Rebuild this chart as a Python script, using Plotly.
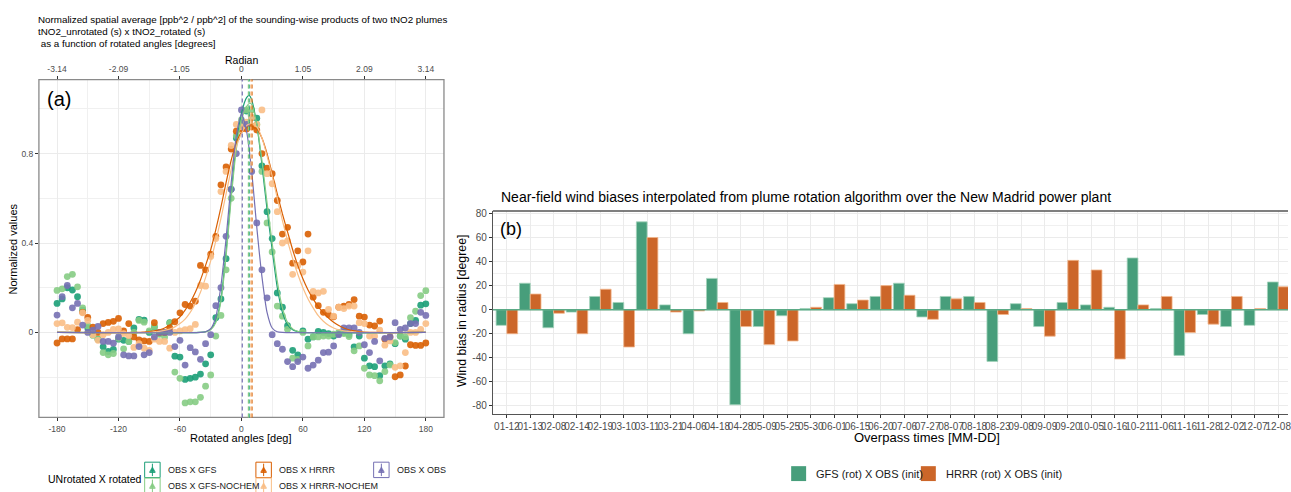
import plotly.graph_objects as go

W, H = 1291, 492


def fx(p):
    return p / W


def fy(p):
    return 1 - p / H


FONT = "Liberation Sans, Arial, sans-serif"

# ---------------- Panel (a) data ----------------
angles = list(range(-180, 181, 5))

obs_gfs = [0.13, 0.15, 0.20, 0.19, 0.16, 0.10, 0.02, -0.01, -0.03, -0.064,
           -0.085, -0.076, -0.03, -0.035, -0.04, 0.02, 0.058, 0.055, 0.0, 0.024,
           -0.005, 0.0, 0.044, -0.106, -0.11, -0.21, -0.205, -0.20, -0.186, -0.14,
           -0.10, 0.066, 0.15, 0.33, 0.64, 0.87, 0.93, 0.99, 0.96, 0.958,
           0.745, 0.54, 0.42, 0.177, 0.113, 0.03, -0.08, -0.10, 0.007, -0.03,
           -0.02, 0.005, 0.0, -0.005, -0.016, -0.005, 0.0, -0.01, -0.064, -0.016,
           -0.115, -0.149, -0.153, -0.193, -0.149, -0.14, -0.05, -0.016, -0.03, 0.04,
           0.054, 0.122, 0.128]

obs_gfs_nochem = [0.188, 0.195, 0.25, 0.26, 0.204, 0.11, 0.03, -0.013, -0.03, -0.09,
                  -0.10, -0.094, -0.026, -0.073, -0.04, 0.0, 0.054, 0.046, 0.007, 0.027,
                  -0.008, -0.02, 0.042, -0.177, -0.205, -0.315, -0.31, -0.31, -0.29, -0.24,
                  -0.19, -0.016, 0.076, 0.28, 0.60, 0.88, 0.95, 0.995, 0.995, 0.93,
                  0.72, 0.49, 0.36, 0.118, 0.073, 0.014, -0.115, -0.12, 0.0, -0.06,
                  -0.02, -0.02, -0.016, -0.016, -0.008, 0.0, -0.005, -0.018, -0.082, -0.06,
                  -0.16, -0.19, -0.193, -0.216, -0.175, -0.145, -0.045, -0.016, -0.02, 0.066,
                  0.095, 0.165, 0.187]

obs_hrrr = [-0.047, -0.029, -0.029, -0.029, 0.013, 0.09, 0.067, 0.024, 0.0, 0.04,
            0.045, 0.05, 0.063, 0.007, 0.04, -0.02, -0.033, -0.038, -0.04, 0.044,
            0.0, 0.0, 0.02, 0.048, 0.088, 0.125, 0.118, 0.14, 0.30, 0.28,
            0.35, 0.43, 0.66, 0.74, 0.82, 0.90, 0.91, 0.91, 0.92, 0.905,
            0.80, 0.735, 0.71, 0.59, 0.44, 0.47, 0.31, 0.365, 0.315, 0.44,
            0.158, 0.12, 0.09, 0.08, 0.07, 0.113, 0.118, 0.125, 0.147, 0.073,
            0.069, 0.033, 0.029, 0.051, -0.03, -0.02, -0.198, -0.19, -0.15, -0.055,
            -0.058, -0.058, -0.047]

obs_hrrr_nochem = [0.04, 0.043, 0.023, 0.022, 0.046, 0.088, 0.054, -0.01, -0.035, -0.01,
                   0.0, 0.014, 0.016, -0.005, -0.014, -0.067, -0.05, -0.07, -0.08, -0.03,
                   -0.04, -0.04, -0.07, 0.0, 0.007, 0.013, 0.017, 0.036, 0.21, 0.207,
                   0.34, 0.42, 0.63, 0.72, 0.836, 0.93, 0.92, 0.94, 0.96, 0.93,
                   0.995, 0.71, 0.665, 0.54, 0.40, 0.41, 0.26, 0.30, 0.27, 0.365,
                   0.184, 0.177, 0.184, 0.103, 0.073, 0.113, 0.107, 0.118, 0.118, 0.044,
                   0.04, -0.016, -0.016, 0.01, -0.057, -0.038, -0.156, -0.149, -0.09, 0.0,
                   0.0, 0.014, 0.04]

obs_obs = [0.078, 0.16, 0.21, 0.11, 0.13, 0.033, 0.0, 0.01, 0.027, -0.04,
           -0.04, -0.048, -0.02, -0.10, -0.105, -0.105, -0.063, -0.10, -0.09, -0.02,
           0.0, 0.0, 0.0, -0.063, -0.035, -0.146, -0.068, -0.087, -0.12, -0.05,
           -0.01, 0.12, 0.20, 0.43, 0.64, 0.80, 0.995, 0.93, 0.72, 0.49,
           0.28, 0.155, -0.01, -0.05, -0.075, -0.13, -0.153, -0.13, -0.11, -0.16,
           -0.146, -0.124, -0.09, -0.088, -0.06, -0.01, 0.02, 0.02, 0.02, 0.0,
           -0.055, -0.09, -0.04, -0.127, -0.026, -0.02, 0.044, 0.014, 0.02, 0.04,
           0.04, 0.09, 0.076]

# fitted curves
fit_obs_x = [-180, -40, -35, -30, -25, -20, -15, -10, -5, 0, 5, 10, 15, 20, 25, 30, 35, 40, 180]
fit_obs_y = [0, 0, 0.003, 0.017, 0.07, 0.21, 0.42, 0.67, 0.88, 0.975, 0.90, 0.72, 0.47, 0.25, 0.09, 0.02, 0.003, 0, 0]

fit_gfs_x = [-180, -40, -35, -30, -25, -20, -15, -10, -5, 0, 5, 7.5, 10, 15, 20, 25, 30, 35, 40, 45, 50, 55, 60, 180]
fit_gfs_y = [0, 0, 0.003, 0.015, 0.05, 0.15, 0.36, 0.62, 0.84, 0.98, 1.05, 1.06, 1.04, 0.93, 0.75, 0.55, 0.37, 0.20, 0.09, 0.035, 0.012, 0.004, 0, 0]

fit_gfsn_x = [-180, -40, -35, -30, -25, -20, -15, -10, -5, 0, 5, 8, 10, 15, 20, 25, 30, 35, 40, 45, 50, 55, 60, 180]
fit_gfsn_y = [0, 0, 0.002, 0.012, 0.045, 0.14, 0.34, 0.60, 0.82, 0.95, 1.01, 1.025, 1.02, 0.93, 0.77, 0.58, 0.40, 0.23, 0.11, 0.045, 0.016, 0.005, 0, 0]

fit_hrrr_x = [-180, -100, -95, -90, -85, -80, -75, -70, -65, -60, -55, -50, -45, -40, -35, -30, -25, -20, -15,
              -10, -5, 0, 5, 10, 15, 20, 25, 30, 35, 40, 45, 50, 55, 60, 65, 70, 75, 80, 85, 90, 95, 100,
              105, 110, 115, 120, 130, 180]
fit_hrrr_y = [0, 0, 0.002, 0.004, 0.007, 0.012, 0.02, 0.032, 0.05, 0.07, 0.10, 0.135, 0.18, 0.235, 0.30, 0.37,
              0.46, 0.56, 0.67, 0.77, 0.85, 0.895, 0.915, 0.92, 0.91, 0.87, 0.80, 0.71, 0.62, 0.53, 0.45, 0.37,
              0.30, 0.24, 0.19, 0.15, 0.115, 0.088, 0.065, 0.046, 0.031, 0.02, 0.012, 0.007, 0.004, 0.002, 0, 0]

fit_hrrrn_x = [-180, -90, -80, -70, -65, -60, -55, -50, -45, -40, -35, -30, -25, -20, -15, -10, -5, 0, 5, 10,
               15, 20, 25, 30, 35, 40, 45, 50, 55, 60, 65, 70, 75, 80, 85, 90, 95, 100, 110, 120, 180]
fit_hrrrn_y = [0, 0, 0.005, 0.015, 0.025, 0.04, 0.06, 0.09, 0.13, 0.18, 0.245, 0.32, 0.41, 0.51, 0.62, 0.73,
               0.83, 0.89, 0.925, 0.935, 0.92, 0.87, 0.79, 0.70, 0.60, 0.50, 0.41, 0.33, 0.26, 0.20, 0.15,
               0.11, 0.075, 0.05, 0.032, 0.02, 0.012, 0.007, 0.002, 0, 0]

centers = {"OBS X GFS": 7.5, "OBS X GFS-NOCHEM": 6.8, "OBS X HRRR": 10.3,
           "OBS X HRRR-NOCHEM": 9.2, "OBS X OBS": 0.8}

radian_vals = [-180, -120, -60, 0, 60, 120, 180]
radian_text = ["-3.14", "-2.09", "-1.05", "0", "1.05", "2.09", "3.14"]
deg_text = ["-180", "-120", "-60", "0", "60", "120", "180"]

# ---------------- Panel (b) data ----------------
dates = ["01-12", "01-13", "02-08", "02-14", "02-19", "03-10", "03-11", "03-21", "04-06", "04-18",
         "04-28", "05-09", "05-25", "05-30", "06-01", "06-15", "06-20", "07-06", "07-27", "08-07",
         "08-18", "08-23", "09-08", "09-09", "09-20", "10-05", "10-16", "10-21", "11-06", "11-16",
         "11-28", "12-02", "12-07", "12-08"]
gfs_bias = [-13, 22, -15, -2, 11, 6, 73, 4, -20, 26,
            -79, -14, -5, 1, 10, 5, 11, 22, -6, 11,
            11, -43, 5, -14, 6, 4, 2, 43, 1, -38,
            -4, -14, -13, 23]
hrrr_bias = [-20, 13, -3, -20, 17, -31, 60, -2, -1, 6,
             -14, -29, -26, 2, 21, 8, 20, 12, -8, 9,
             6, -4, 1, -22, 41, 33, -41, 4, 11, -19,
             -12, 11, 1, 19]
bias_ticks = [-80, -60, -40, -20, 0, 20, 40, 60, 80]

series = [
    ("OBS X GFS", "#1B9E77", obs_gfs, fit_gfs_x, fit_gfs_y),
    ("OBS X GFS-NOCHEM", "#86CC84", obs_gfs_nochem, fit_gfsn_x, fit_gfsn_y),
    ("OBS X HRRR", "#D95F02", obs_hrrr, fit_hrrr_x, fit_hrrr_y),
    ("OBS X HRRR-NOCHEM", "#F9BE86", obs_hrrr_nochem, fit_hrrrn_x, fit_hrrrn_y),
    ("OBS X OBS", "#7570B3", obs_obs, fit_obs_x, fit_obs_y),
]

fig = go.Figure()

for name, col, vals, fxs, fys in series:
    fig.add_trace(go.Scatter(x=angles, y=vals, mode="markers", name=name,
                             marker=dict(color=col, size=6.8, opacity=0.9, line=dict(width=0)),
                             showlegend=False, xaxis="x", yaxis="y"))
for name, col, vals, fxs, fys in series:
    fig.add_trace(go.Scatter(x=fxs, y=fys, mode="lines", name=name + " fit",
                             line=dict(color=col, width=1.2, shape="spline", smoothing=0.6),
                             showlegend=False, xaxis="x", yaxis="y"))

# top radian axis holder
fig.add_trace(go.Scatter(x=[], y=[], xaxis="x2", yaxis="y", showlegend=False))

# panel b bars
fig.add_trace(go.Bar(x=dates, y=gfs_bias, name="GFS (rot) X OBS (init)",
                     marker=dict(color="#479E7B", line=dict(color="#A3D3BB", width=0.8)),
                     showlegend=False, xaxis="x3", yaxis="y3"))
fig.add_trace(go.Bar(x=dates, y=hrrr_bias, name="HRRR (rot) X OBS (init)",
                     marker=dict(color="#CC6629", line=dict(color="#F2B68C", width=0.8)),
                     showlegend=False, xaxis="x3", yaxis="y3"))

shapes = []
# panel a border
shapes.append(dict(type="rect", xref="paper", yref="paper", x0=fx(39), x1=fx(445), y0=fy(417), y1=fy(77),
                   line=dict(color="#8a8a8a", width=1.3), layer="above"))
# dashed centre lines
for name, col, vals, fxs, fys in series:
    c = centers[name]
    shapes.append(dict(type="line", xref="x", yref="paper", x0=c, x1=c, y0=fy(417), y1=fy(77),
                       line=dict(color=col, width=1.2, dash="4px,3px"), layer="above"))
# panel b lines
shapes.append(dict(type="line", xref="paper", yref="paper", x0=fx(494), x1=1, y0=fy(209.3), y1=fy(209.3),
                   line=dict(color="#555555", width=1.6)))
shapes.append(dict(type="line", xref="paper", yref="y3", x0=fx(494), x1=1, y0=0, y1=0,
                   line=dict(color="#5BAA86", width=1.5), layer="above"))

# legend (a)
leg_a = [("OBS X GFS", "#1B9E77", 145, 462), ("OBS X HRRR", "#D95F02", 256.5, 462),
         ("OBS X OBS", "#7570B3", 374.5, 462), ("OBS X GFS-NOCHEM", "#86CC84", 145, 478),
         ("OBS X HRRR-NOCHEM", "#F9BE86", 256.5, 478)]
annotations = []
for name, col, x0, y0 in leg_a:
    x1, y1 = x0 + 15.5, y0 + 15.5
    cx, cy = (x0 + x1) / 2, (y0 + y1) / 2
    shapes.append(dict(type="rect", xref="paper", yref="paper", x0=fx(x0), x1=fx(x1), y0=fy(y1), y1=fy(y0),
                       line=dict(color=col, width=1), fillcolor="white"))
    shapes.append(dict(type="line", xref="paper", yref="paper", x0=fx(cx), x1=fx(cx), y0=fy(y1 - 1.5), y1=fy(y0 + 1.5),
                       line=dict(color=col, width=1)))
    shapes.append(dict(type="line", xref="paper", yref="paper", x0=fx(cx - 3), x1=fx(cx + 3), y0=fy(cy + 2.5), y1=fy(cy + 2.5),
                       line=dict(color=col, width=1)))
    path = "M {} {} L {} {} L {} {} Z".format(fx(cx - 2.8), fy(cy + 2), fx(cx + 2.8), fy(cy + 2), fx(cx), fy(cy - 3))
    shapes.append(dict(type="path", xref="paper", yref="paper", path=path, fillcolor=col, line=dict(color=col, width=0.5)))
    annotations.append(dict(text=name, x=fx(x1 + 6), y=fy(cy), xref="paper", yref="paper", xanchor="left",
                            yanchor="middle", showarrow=False, font=dict(family=FONT, size=9, color="#1a1a1a")))

# legend (b)
for name, col, x0 in [("GFS (rot) X OBS (init)", "#479E7B", 793), ("HRRR (rot) X OBS (init)", "#CC6629", 923)]:
    shapes.append(dict(type="rect", xref="paper", yref="paper", x0=fx(x0), x1=fx(x0 + 15), y0=fy(481), y1=fy(466),
                       line=dict(width=0), fillcolor=col))
    annotations.append(dict(text=name, x=fx(x0 + 23), y=fy(474), xref="paper", yref="paper", xanchor="left",
                            yanchor="middle", showarrow=False, font=dict(family=FONT, size=11, color="#1a1a1a")))


def ann(text, x, y, size, xanchor="left", color="#000000", angle=0):
    annotations.append(dict(text=text, x=fx(x), y=fy(y), xref="paper", yref="paper", xanchor=xanchor,
                            yanchor="middle", showarrow=False, textangle=angle,
                            font=dict(family=FONT, size=size, color=color)))


ann("Normalized spatial average [ppb^2 / ppb^2] of the sounding-wise products of two tNO2 plumes", 36.5, 17, 9.8)
ann("tNO2_unrotated (s) x tNO2_rotated (s)", 36.5, 29, 9.8)
ann(" as a function of rotated angles [degrees]", 36.5, 41, 9.8)
ann("Radian", 242, 57.5, 10.5, xanchor="center")
ann("(a)", 45, 97, 20)
ann("Rotated angles [deg]", 242, 438, 11, xanchor="center")
ann("Normalized values", 14, 247, 11, xanchor="center", angle=-90)
ann("UNrotated X rotated", 46, 479, 10.5)
ann("Near-field wind biases interpolated from plume rotation algorithm over the New Madrid power plant", 500, 195, 14)
ann("(b)", 499, 227, 18)
ann("Wind bias in radius [degree]", 463, 310, 12.3, xanchor="center", angle=-90)
ann("Overpass times [MM-DD]", 929, 437, 13, xanchor="center")

tickfont_a = dict(family=FONT, size=8.5, color="#4d4d4d")
tickfont_b = dict(family=FONT, size=10, color="#4d4d4d")

fig.update_layout(
    width=W, height=H, margin=dict(l=0, r=0, t=0, b=0),
    paper_bgcolor="white", plot_bgcolor="white",
    barmode="group", bargap=0.08, bargroupgap=0,
    font=dict(family=FONT),
    shapes=shapes, annotations=annotations,
    xaxis=dict(domain=[fx(39), fx(445)], anchor="y", range=[-197.7, 197.7],
               tickmode="array", tickvals=radian_vals, ticktext=deg_text,
               ticks="outside", ticklen=3, tickcolor="#333333", tickfont=tickfont_a,
               showgrid=True, gridcolor="#ebebeb", gridwidth=1, zeroline=False, showline=False,
               minor=dict(tickmode="array", tickvals=[-150, -90, -30, 30, 90, 150], showgrid=True,
                          gridcolor="#f0f0f0", gridwidth=0.6, ticks="")),
    xaxis2=dict(overlaying="x", side="top", anchor="y", range=[-197.7, 197.7],
                tickmode="array", tickvals=radian_vals, ticktext=radian_text,
                ticks="outside", ticklen=3, tickcolor="#333333", tickfont=tickfont_a,
                showgrid=False, zeroline=False, showline=False),
    yaxis=dict(domain=[fy(417), fy(77)], anchor="x", range=[-0.38, 1.131],
               tickmode="array", tickvals=[0, 0.4, 0.8], ticktext=["0", "0.4", "0.8"],
               ticks="outside", ticklen=3, tickcolor="#333333", tickfont=tickfont_a,
               showgrid=True, gridcolor="#ebebeb", gridwidth=1, zeroline=False, showline=False,
               minor=dict(tickmode="array", tickvals=[-0.2, 0.2, 0.6, 1.0], showgrid=True,
                          gridcolor="#f0f0f0", gridwidth=0.6, ticks="")),
    xaxis3=dict(domain=[fx(494), 1.0], anchor="y3", type="category", range=[-0.6, 33.42],
                categoryorder="array", categoryarray=dates,
                ticks="outside", ticklen=3, tickcolor="#333333", tickfont=tickfont_b, tickangle=0,
                showgrid=True, gridcolor="#ebebeb", gridwidth=1, zeroline=False,
                showline=True, linecolor="#555555", linewidth=1.2),
    yaxis3=dict(domain=[fy(413.3), fy(209.3)], anchor="x3", range=[-86.5, 82],
                tickmode="array", tickvals=bias_ticks, ticktext=[str(v) for v in bias_ticks],
                ticks="outside", ticklen=3, tickcolor="#333333", tickfont=tickfont_b,
                showgrid=True, gridcolor="#ebebeb", gridwidth=1, zeroline=False,
                showline=True, linecolor="#555555", linewidth=1.2,
                minor=dict(tickmode="array", tickvals=[-70, -50, -30, -10, 10, 30, 50, 70],
                           showgrid=True, gridcolor="#f0f0f0", gridwidth=0.6, ticks="")),
)

fig.write_html("out.html")
